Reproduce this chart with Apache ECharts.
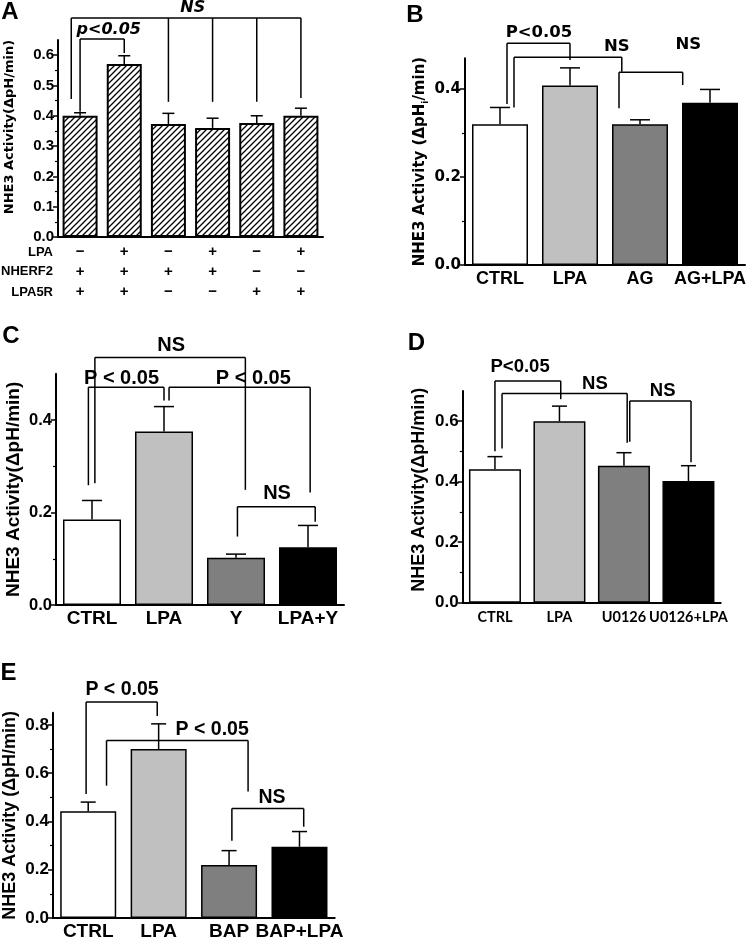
<!DOCTYPE html>
<html><head><meta charset="utf-8">
<script src="https://cdn.jsdelivr.net/npm/echarts@6/dist/echarts.min.js"></script>
<style>html,body{margin:0;padding:0;background:#fff}#c{width:750px;height:941px}</style>
</head><body><div id="c"></div>
<script>
// ---------------- DATA ----------------
// Panel A
const signsLPA_A    = ['−','+','−','+','−','+'];
const signsNHERF2_A = ['+','+','+','+','−','−'];
const signsLPA5R_A  = ['+','+','−','−','+','+'];
const rowNamesA     = ['LPA','NHERF2','LPA5R'];
const valuesA = [0.400, 0.571, 0.373, 0.360, 0.376, 0.400];
const semA    = [0.010, 0.027, 0.035, 0.032, 0.024, 0.025];
const ticksA  = [0, 0.1, 0.2, 0.3, 0.4, 0.5, 0.6];
const minorA  = [0.05, 0.15, 0.25, 0.35, 0.45, 0.55];
const bracketsA = [
  {xs:[0, 1], top:0.653, ends:[0.413, 0.607]},
  {xs:[-0.2, 2, 3, 4, 5], top:0.723, ends:[0.455, 0.446, 0.446, 0.446, 0.459]}
];
const notesA = [{t:'p<0.05', x:0.65, y:0.683}, {t:'NS', x:2.55, y:0.756}];

// Panel B
const catsB   = ['CTRL','LPA','AG','AG+LPA'];
const valuesB = [0.320, 0.408, 0.320, 0.369];
const semB    = [0.038, 0.040, 0.010, 0.030];
const ticksB  = [0, 0.2, 0.4];
const minorB  = [0.1, 0.3];
const bracketsB = [
  {xs:[0.1, 1.0], top:0.504, ends:[0.366, 0.466]},
  {xs:[0.2, 1.74], top:0.472, ends:[0.358, 0.439]},
  {xs:[1.7, 2.61], top:0.438, ends:[0.356, 0.409]}
];
const notesB = [{t:'P<0.05', x:0.557, y:0.527}, {t:'NS', x:1.67, y:0.496}, {t:'NS', x:2.69, y:0.500}];

// Panel C
const catsC   = ['CTRL','LPA','Y','LPA+Y'];
const valuesC = [0.185, 0.375, 0.102, 0.125];
const semC    = [0.041, 0.054, 0.008, 0.047];
const ticksC  = [0, 0.2, 0.4];
const minorC  = [0.1, 0.3];
const bracketsC = [
  {xs:[0.04, 2.13], top:0.535, ends:[0.263, 0.249]},
  {xs:[-0.05, 1.0], top:0.471, ends:[0.259, 0.442]},
  {xs:[1.07, 3.03], top:0.471, ends:[0.442, 0.243]},
  {xs:[2.02, 3.1], top:0.2125, ends:[0.148, 0.180]}
];
const notesC = [{t:'NS', x:1.1, y:0.562}, {t:'P < 0.05', x:0.41, y:0.49}, {t:'P < 0.05', x:2.24, y:0.49}, {t:'NS', x:2.57, y:0.241}];

// Panel D
const catsD   = ['CTRL','LPA','U0126','U0126+LPA'];
const valuesD = [0.441, 0.600, 0.453, 0.402];
const semD    = [0.042, 0.050, 0.043, 0.051];
const ticksD  = [0, 0.2, 0.4, 0.6];
const minorD  = [0.1, 0.3, 0.5];
const bracketsD = [
  {xs:[0, 1.02], top:0.733, ends:[0.501, 0.673]},
  {xs:[0.11, 2.05], top:0.692, ends:[0.510, 0.529]},
  {xs:[2.09, 3.04], top:0.667, ends:[0.532, 0.464]}
];
const notesD = [{t:'P<0.05', x:0.39, y:0.78}, {t:'NS', x:1.55, y:0.725}, {t:'NS', x:2.6, y:0.70}];

// Panel E
const catsE   = ['CTRL','LPA','BAP','BAP+LPA'];
const valuesE = [0.442, 0.700, 0.220, 0.295];
const semE    = [0.038, 0.104, 0.059, 0.063];
const ticksE  = [0, 0.2, 0.4, 0.6, 0.8];
const minorE  = [0.1, 0.3, 0.5, 0.7];
const bracketsE = [
  {xs:[-0.03, 0.98], top:0.895, ends:[0.514, 0.837]},
  {xs:[0.26, 2.27], top:0.735, ends:[0.548, 0.524]},
  {xs:[2.04, 3.06], top:0.453, ends:[0.320, 0.378]}
];
const notesE = [{t:'P < 0.05', x:0.48, y:0.946}, {t:'P < 0.05', x:1.76, y:0.78}, {t:'NS', x:2.61, y:0.497}];

const grays = ['#ffffff', '#c0c0c0', '#7f7f7f', '#000000'];

// ---------------- LAYOUT / STYLE ----------------
const AR = '"Liberation Sans", Arial, sans-serif';
const DV = '"DejaVu Sans", sans-serif';
const LT = 'Lato, "Liberation Sans", sans-serif';

// diagonal hatch tile for panel A bars
const hatch = document.createElement('canvas');
const HS = 6;
hatch.width = HS; hatch.height = HS;
(function () {
  const g = hatch.getContext('2d');
  g.fillStyle = '#fff'; g.fillRect(0, 0, HS, HS);
  g.strokeStyle = '#000'; g.lineWidth = 1.3;
  g.beginPath();
  g.moveTo(0, HS); g.lineTo(HS, 0);
  g.moveTo(-1, 1); g.lineTo(1, -1);
  g.moveTo(HS - 1, HS + 1); g.lineTo(HS + 1, HS - 1);
  g.stroke();
})();

const panels = [
  {letter:'A', lx:10, ly:12, grid:{left:58, top:40, width:265, height:197}, max:0.65,
   cats:['1','2','3','4','5','6'], vals:valuesA, sem:semA, ticks:ticksA, minor:minorA,
   brackets:bracketsA, notes:notesA, hatch:true, barWidth:35, capW:12, border:2,
   tickFont:[AR,15], name:'NHE3 Activity(ΔpH/min)', nameFont:[DV,13], nameGap:42, namePad:[0,0,0,23],
   xFont:[AR,15], xMargin:5, noteFont:[DV,16,'italic']},
  {letter:'B', lx:415, ly:15, grid:{left:465, top:58.2, width:280, height:206.8}, max:0.47,
   cats:catsB, vals:valuesB, sem:semB, ticks:ticksB, minor:minorB,
   brackets:bracketsB, notes:notesB, barWidth:56, capW:20, border:1.5,
   tickFont:[DV,15], name:'{a|NHE3 Activity (ΔpH}{s|i}{a|/min)}', nameFont:[DV,15], nameGap:30, namePad:[0,0,0,0],
   xFont:[AR,18], xMargin:5, noteFont:[DV,16.5,'normal']},
  {letter:'C', lx:11, ly:336, grid:{left:56, top:373.75, width:288, height:231.25}, max:0.5,
   cats:catsC, vals:valuesC, sem:semC, ticks:ticksC, minor:minorC,
   brackets:bracketsC, notes:notesC, barWidth:58, capW:20, border:1.5,
   tickFont:[AR,16.5], name:'NHE3 Activity(ΔpH/min)', nameFont:[AR,19], nameGap:33, namePad:[0,0,0,0],
   xFont:[AR,19], xMargin:4, noteFont:[AR,20,'normal']},
  {letter:'D', lx:416.5, ly:343.5, grid:{left:462.7, top:391, width:258, height:211.7}, max:0.7,
   cats:catsD, vals:valuesD, sem:semD, ticks:ticksD, minor:minorD,
   brackets:bracketsD, notes:notesD, barWidth:52, capW:15, border:1.5,
   tickFont:[AR,17], name:'NHE3 Activity(ΔpH/min)', nameFont:[AR,18], nameGap:35, namePad:[0,0,0,14],
   xFont:[LT,14.5], xMargin:7, noteFont:[AR,18.5,'normal']},
  {letter:'E', lx:8.5, ly:673.5, grid:{left:52.7, top:712.75, width:282, height:208.25}, max:0.85,
   cats:catsE, vals:valuesE, sem:semE, ticks:ticksE, minor:minorE,
   brackets:bracketsE, notes:notesE, barWidth:56, capW:15, border:1.5,
   tickFont:[AR,17], name:'NHE3 Activity (ΔpH/min)', nameFont:[AR,18], nameGap:34, namePad:[0,0,0,0],
   xFont:[AR,19], xMargin:4, noteFont:[AR,19.5,'normal']}
];

const grid = [], xAxis = [], yAxis = [], series = [], graphic = [];

panels.forEach((p, i) => {
  grid.push(Object.assign({containLabel:false}, p.grid));
  const xa = {
    type:'category', gridIndex:i, data:p.cats,
    axisLine:{show:true, lineStyle:{color:'#000', width:2}},
    axisTick:{show:false},
    axisLabel:{interval:0, color:'#000', fontWeight:'bold', fontFamily:p.xFont[0], fontSize:p.xFont[1], margin:p.xMargin}
  };
  if (p.letter === 'A') {
    xa.axisLabel.formatter = (v, idx) => signsLPA_A[idx] + '\n' + signsNHERF2_A[idx] + '\n' + signsLPA5R_A[idx];
    xa.axisLabel.lineHeight = 20;
  }
  xAxis.push(xa);
  const mainY = yAxis.length;
  yAxis.push({
    type:'value', gridIndex:i, min:0, max:p.max, position:'left',
    axisLine:{show:true, lineStyle:{color:'#000', width:2}},
    axisTick:{show:true, length:5, lineStyle:{color:'#000', width:1.5}, customValues:p.ticks},
    axisLabel:{show:true, customValues:p.ticks, formatter:v => v.toFixed(1), color:'#000', fontWeight:'bold',
               fontFamily:p.tickFont[0], fontSize:p.tickFont[1], margin:4},
    splitLine:{show:false},
    name:p.name, nameLocation:'middle', nameGap:p.nameGap,
    nameTextStyle:{color:'#000', fontWeight:'bold', fontFamily:p.nameFont[0], fontSize:p.nameFont[1], padding:p.namePad,
      rich:{a:{fontWeight:'bold', fontFamily:p.nameFont[0], fontSize:p.nameFont[1], color:'#000'},
            s:{fontWeight:'bold', fontFamily:p.nameFont[0], fontSize:p.nameFont[1]*0.6, color:'#000', verticalAlign:'bottom', padding:[0,0,-3,0]}}}
  });
  yAxis.push({
    type:'value', gridIndex:i, min:0, max:p.max, position:'left', offset:0,
    axisLine:{show:false}, axisLabel:{show:false}, splitLine:{show:false},
    axisTick:{show:true, length:3, lineStyle:{color:'#000', width:1.2}, customValues:p.minor}
  });

  const itemStyle = {borderColor:'#000', borderWidth:p.border};
  series.push({
    type:'bar', xAxisIndex:i, yAxisIndex:mainY, barWidth:p.barWidth, z:2, silent:true,
    data:p.vals.map((v, j) => ({value:v, itemStyle: p.hatch
      ? {color:{image:hatch, repeat:'repeat'}}
      : {color:grays[j]}})),
    itemStyle
  });
  // error bars (upper half)
  series.push({
    type:'custom', xAxisIndex:i, yAxisIndex:mainY, z:3, silent:true,
    data:p.vals.map((v, j) => [j, v, v + p.sem[j]]),
    encode:{x:0, y:[1,2]},
    renderItem:(params, api) => {
      const b = api.coord([api.value(0), api.value(1)]);
      const t = api.coord([api.value(0), api.value(2)]);
      return {type:'group', children:[
        {type:'line', shape:{x1:b[0], y1:b[1], x2:t[0], y2:t[1]}, style:{stroke:'#000', lineWidth:1.5}},
        {type:'line', shape:{x1:t[0]-p.capW/2, y1:t[1], x2:t[0]+p.capW/2, y2:t[1]}, style:{stroke:'#000', lineWidth:1.5}}
      ]};
    }
  });
  // significance brackets
  series.push({
    type:'custom', xAxisIndex:i, yAxisIndex:mainY, z:4, silent:true, clip:false,
    data:p.brackets.map(b => [0, b.top]),
    renderItem:(params, api) => {
      const br = p.brackets[params.dataIndex];
      const c0 = api.coord([0, 0]), c1 = api.coord([1, 0]);
      const band = c1[0] - c0[0];
      const px = x => c0[0] + x * band;
      const py = v => api.coord([0, v])[1];
      const yT = py(br.top);
      const children = [{type:'line', shape:{x1:px(Math.min(...br.xs)), y1:yT, x2:px(Math.max(...br.xs)), y2:yT},
                         style:{stroke:'#000', lineWidth:1.5}}];
      br.xs.forEach((x, k) => children.push({type:'line', shape:{x1:px(x), y1:yT, x2:px(x), y2:py(br.ends[k])},
                         style:{stroke:'#000', lineWidth:1.5}}));
      return {type:'group', children};
    }
  });
  // annotation texts
  series.push({
    type:'custom', xAxisIndex:i, yAxisIndex:mainY, z:5, silent:true, clip:false,
    data:p.notes.map(n => [0, n.y]),
    renderItem:(params, api) => {
      const n = p.notes[params.dataIndex];
      const c0 = api.coord([0, 0]), c1 = api.coord([1, 0]);
      const band = c1[0] - c0[0];
      return {type:'text', x:c0[0] + n.x * band, y:api.coord([0, n.y])[1],
        style:{text:n.t, fill:'#000', fontFamily:p.noteFont[0], fontSize:p.noteFont[1], fontWeight:'bold', fontStyle:p.noteFont[2],
               font:p.noteFont[2] + ' bold ' + p.noteFont[1] + 'px ' + p.noteFont[0],
               align:'center', verticalAlign:'middle', textAlign:'center', textVerticalAlign:'middle'}};
    }
  });
  graphic.push({type:'text', x:p.lx, y:p.ly, style:{text:p.letter, fill:'#000', font:'bold 24px ' + AR,
    align:'center', verticalAlign:'middle', textAlign:'center', textVerticalAlign:'middle'}});
});

// Panel A row names
[252, 271.5, 292].forEach((y, k) => graphic.push({type:'text', x:53, y:y,
  style:{text:rowNamesA[k], fill:'#000', font:'bold 13px ' + AR, align:'right', verticalAlign:'middle', textAlign:'right', textVerticalAlign:'middle'}}));

const chart = echarts.init(document.getElementById('c'), null, {renderer:'canvas'});
chart.setOption({backgroundColor:'#fff', animation:false, grid, xAxis, yAxis, series, graphic});
</script></body></html>
